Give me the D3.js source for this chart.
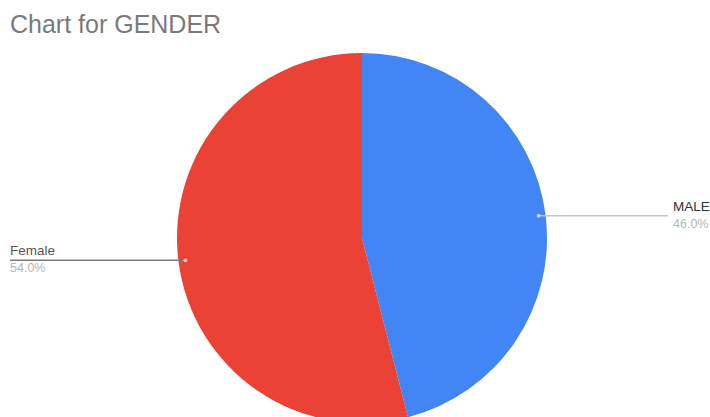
<!DOCTYPE html>
<html>
<head>
<meta charset="utf-8">
<script src="https://cdn.jsdelivr.net/npm/d3@7"></script>
<style>
  html, body { margin: 0; padding: 0; background: #ffffff; overflow: hidden; }
  svg { display: block; }
</style>
</head>
<body>
<svg id="chart" width="710" height="417"></svg>
<script>
// Gender breakdown
const categories = ["MALE", "Female"];
const values = [46, 54];
const colors = ["#4285f4", "#ea4335"];
const title = "Chart for GENDER";

const width = 710, height = 417;
const cx = 362, cy = 238, radius = 185;

const svg = d3.select("#chart");

svg.append("text")
  .attr("x", 10)
  .attr("y", 33)
  .attr("font-family", "Liberation Sans, Arial, sans-serif")
  .attr("font-size", 25)
  .attr("fill", "#7a7a7a")
  .text(title);

const data = categories.map((c, i) => ({ name: c, value: values[i], color: colors[i] }));
const total = d3.sum(values);

const pie = d3.pie().sort(null).value(d => d.value).startAngle(0).endAngle(2 * Math.PI);
const arcs = pie(data);

const arc = d3.arc().innerRadius(0).outerRadius(radius);
const dotArc = d3.arc().innerRadius(radius - 7).outerRadius(radius - 7);

const g = svg.append("g").attr("transform", `translate(${cx},${cy})`);

g.selectAll("path.slice")
  .data(arcs)
  .join("path")
  .attr("class", "slice")
  .attr("d", arc)
  .attr("fill", d => d.data.color)
  .attr("stroke", "none");

const pct = d3.format(".1%");

// leader lines run horizontally from each slice to the side margins
const labelLeft = 10, labelRightStart = 673, lineRightEnd = 668;

arcs.forEach((d, i) => {
  const [px, py] = dotArc.centroid(d);
  const mid = (d.startAngle + d.endAngle) / 2;
  const onRight = Math.sin(mid) > 0;
  const ax = cx + px, ay = cy + py;
  const endX = onRight ? lineRightEnd : labelLeft;

  svg.append("line")
    .attr("x1", ax).attr("y1", ay)
    .attr("x2", endX).attr("y2", ay)
    .attr("stroke", onRight ? "#c4c4c4" : "#7a7a7a")
    .attr("stroke-width", 1.5);

  svg.append("circle")
    .attr("cx", ax).attr("cy", ay)
    .attr("r", 2)
    .attr("fill", "#ffffff")
    .attr("fill-opacity", 0.6);

  const tx = onRight ? labelRightStart : labelLeft;
  svg.append("text")
    .attr("x", tx)
    .attr("y", ay - 5)
    .attr("font-family", "Liberation Sans, Arial, sans-serif")
    .attr("font-size", 13.5)
    .attr("fill", onRight ? "#333333" : "#555555")
    .text(d.data.name);

  svg.append("text")
    .attr("x", tx)
    .attr("y", ay + 12)
    .attr("font-family", "Liberation Sans, Arial, sans-serif")
    .attr("font-size", 12.5)
    .attr("fill", "#b5b5b5")
    .text(pct(d.data.value / total));
});
</script>
</body>
</html>
